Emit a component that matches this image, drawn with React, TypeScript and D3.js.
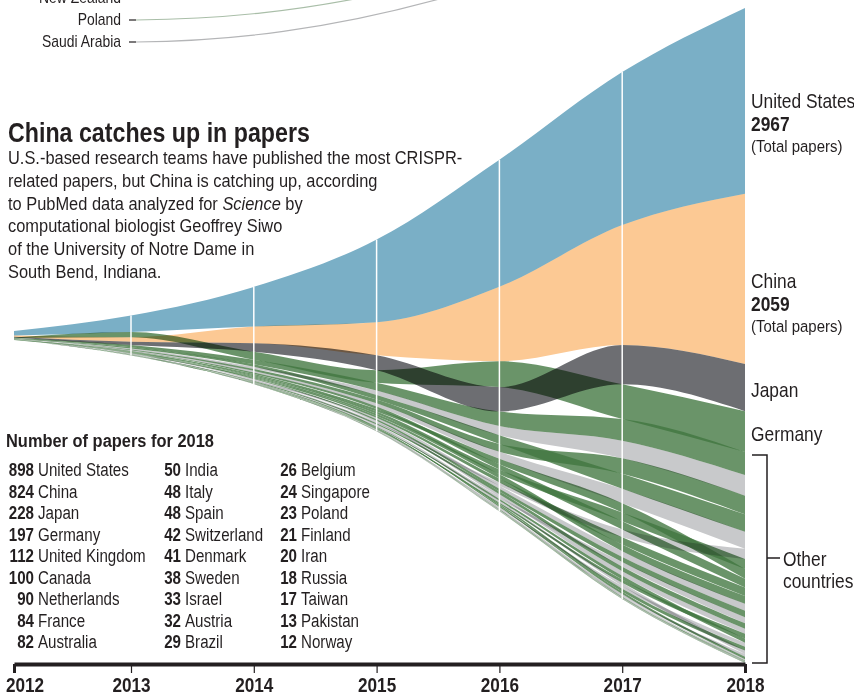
import React, { useRef, useEffect } from 'react';
import * as d3 from 'd3';

// annual CRISPR papers per country, 2012-2018
const years = [2012, 2013, 2014, 2015, 2016, 2017, 2018];

const countries = [
  'United States', 'China', 'Japan', 'Germany', 'United Kingdom', 'Canada', 'Netherlands',
  'France', 'Australia', 'India', 'Italy', 'Spain', 'Switzerland', 'Denmark', 'Sweden',
  'Israel', 'Austria', 'Brazil', 'Belgium', 'Singapore', 'Poland', 'Finland', 'Iran',
  'Russia', 'Taiwan', 'Pakistan', 'Norway', 'New Zealand', 'Saudi Arabia', 'Ireland',
  'Czech Republic', 'Mexico', 'Portugal', 'Turkey', 'Argentina', 'Greece', 'Hungary',
];

// us / cn / jp / eu (green) / row (light grey)
const regions = [
  'us', 'cn', 'jp', 'eu', 'eu', 'row', 'eu',
  'eu', 'row', 'row', 'eu', 'eu', 'eu', 'eu', 'eu',
  'row', 'eu', 'row', 'eu', 'row', 'eu', 'eu', 'row',
  'eu', 'row', 'row', 'eu', 'row', 'row', 'eu',
  'eu', 'row', 'eu', 'row', 'row', 'eu', 'eu',
];

const papers = [
  [22, 80, 192, 400, 615, 740, 898],
  [6, 22, 80, 160, 360, 580, 824],
  [3, 16, 42, 72, 118, 190, 228],
  [3, 25, 38, 60, 125, 168, 197],
  [3, 10, 22, 38, 70, 105, 112],
  [1, 5, 11, 22, 45, 85, 100],
  [1, 4, 9, 18, 38, 75, 90],
  [1, 6, 12, 22, 42, 72, 84],
  [0, 3, 8, 15, 34, 70, 82],
  [0, 1, 3, 6, 16, 38, 50],
  [0, 2, 5, 11, 22, 42, 48],
  [1, 2, 6, 12, 26, 45, 48],
  [1, 3, 7, 13, 26, 40, 42],
  [0, 1, 4, 9, 19, 35, 41],
  [0, 2, 5, 10, 21, 32, 38],
  [0, 1, 3, 7, 15, 28, 33],
  [1, 2, 4, 7, 13, 25, 32],
  [0, 1, 2, 5, 10, 22, 29],
  [0, 1, 3, 6, 13, 22, 26],
  [0, 2, 4, 7, 13, 22, 24],
  [0, 0, 1, 3, 7, 16, 23],
  [0, 1, 2, 4, 9, 18, 21],
  [0, 0, 1, 2, 6, 14, 20],
  [0, 1, 1, 3, 7, 14, 18],
  [0, 1, 2, 5, 9, 15, 17],
  [0, 0, 0, 1, 3, 8, 13],
  [0, 1, 2, 4, 7, 11, 12],
  [0, 0, 0, 1, 2, 3, 3],
  [0, 0, 0, 0, 1, 2, 3],
  [0, 0, 1, 1, 2, 2, 2],
  [0, 0, 0, 1, 1, 2, 2],
  [0, 0, 0, 1, 1, 2, 2],
  [0, 0, 0, 1, 1, 1, 2],
  [0, 0, 0, 0, 1, 1, 1],
  [0, 0, 0, 1, 1, 1, 1],
  [0, 0, 0, 0, 1, 1, 1],
  [0, 0, 0, 0, 1, 1, 1],
];

const labelCountries = ['United States', 'China'];
const totalPapers = [2967, 2059];
const tableSize = 27;

const paragraph = [
  'U.S.-based research teams have published the most CRISPR-',
  'related papers, but China is catching up, according',
  'to PubMed data analyzed for |Science| by',
  'computational biologist Geoffrey Siwo',
  'of the University of Notre Dame in',
  'South Bend, Indiana.',
];

const colors = {
  us: '#7aafc6',
  cn: '#fcc994',
  jp: '#6d6e72',
  eu: '#40763f',
  row: '#c8c9cb',
};

const INK = '#231f20';
const FONT = "'Liberation Sans', Arial, sans-serif";
const SX = 0.86;

const App = () => {
  const svgRef = useRef(null);

  useEffect(() => {
    const svg = d3.select(svgRef.current);
    svg.selectAll('*').remove();

    const midY = 335.5;
    const x = d3.scaleLinear().domain([2012, 2013, 2018]).range([14, 131, 745]);
    const totals = years.map((_, t) => d3.sum(papers, p => p[t]));
    const h = d3.scaleLinear().domain([0, d3.max(totals)]).range([0, 655]);

    // stack each year by rank, centred on midY
    const layout = years.map((_, t) => {
      const order = d3.range(countries.length)
        .sort((a, b) => papers[b][t] - papers[a][t] || a - b);
      let y = midY - h(totals[t]) / 2;
      const pos = [];
      order.forEach(i => {
        pos[i] = [y, y + h(papers[i][t])];
        y += h(papers[i][t]);
      });
      return pos;
    });

    const idx = d3.range(years.length);
    const bandPath = i => d3.area()
      .x(t => x(years[t]))
      .y0(t => layout[t][i][0])
      .y1(t => layout[t][i][1])
      .curve(d3.curveMonotoneX)(idx);

    // greens first with plain transparency, the rest multiplied over them
    const bands = svg.append('g');
    const drawOrder = d3.range(countries.length)
      .sort((a, b) => (regions[a] === 'eu' ? 0 : 1) - (regions[b] === 'eu' ? 0 : 1));
    drawOrder.forEach(i => {
      const p = bands.append('path')
        .attr('d', bandPath(i))
        .attr('fill', colors[regions[i]]);
      if (regions[i] === 'eu') p.attr('fill-opacity', 0.78);
      else p.style('mix-blend-mode', 'multiply');
    });

    // white year guides
    idx.slice(1, -1).forEach(t => {
      svg.append('line')
        .attr('x1', x(years[t])).attr('x2', x(years[t]))
        .attr('y1', midY - h(totals[t]) / 2)
        .attr('y2', midY + h(totals[t]) / 2)
        .attr('stroke', '#fff')
        .attr('stroke-width', 1.5);
    });

    const txt = (g, tx, ty, str, size, bold = false, anchor = 'start') =>
      g.append('text')
        .attr('transform', `translate(${tx},${ty}) scale(${SX},1)`)
        .attr('font-family', FONT)
        .attr('font-size', size)
        .attr('font-weight', bold ? 'bold' : 'normal')
        .attr('text-anchor', anchor)
        .attr('fill', INK)
        .text(str);

    // leftovers from the chart above
    txt(svg, 121, 3, 'New Zealand', 16.2, false, 'end');
    txt(svg, 121, 25, 'Poland', 16.2, false, 'end');
    txt(svg, 121, 47, 'Saudi Arabia', 16.2, false, 'end');
    [20, 42].forEach(yy => {
      svg.append('line').attr('x1', 129).attr('x2', 136).attr('y1', yy).attr('y2', yy)
        .attr('stroke', INK).attr('stroke-width', 1.2);
    });
    svg.append('path').attr('d', 'M136,20 C230,19 300,10 370,-4')
      .attr('fill', 'none').attr('stroke', '#a9bea8').attr('stroke-width', 1.2);
    svg.append('path').attr('d', 'M136,42 C230,41 330,30 450,-4')
      .attr('fill', 'none').attr('stroke', '#b4b5b7').attr('stroke-width', 1.2);

    // title + intro
    txt(svg, 8, 142, 'China catches up in papers', 27, true);
    paragraph.forEach((line, i) => {
      const t = svg.append('text')
        .attr('transform', `translate(8,${164 + i * 22.8}) scale(${SX},1)`)
        .attr('font-family', FONT)
        .attr('font-size', 19.1)
        .attr('fill', INK);
      line.split('|').forEach((part, j) => {
        t.append('tspan').attr('font-style', j % 2 ? 'italic' : 'normal').text(part);
      });
    });

    // right-hand labels
    const labelY = [108, 288];
    labelCountries.forEach((name, i) => {
      txt(svg, 751, labelY[i], name, 20.2);
      txt(svg, 751, labelY[i] + 23, String(totalPapers[i]), 20.2, true);
      txt(svg, 751, labelY[i] + 44, '(Total papers)', 17.4);
    });
    txt(svg, 751, 397, 'Japan', 20.2);
    txt(svg, 751, 441, 'Germany', 20.2);

    // bracket for the rest
    const restTop = 455;
    const restBottom = 663;
    const restMid = 558;
    svg.append('path')
      .attr('d', `M752,${restTop} H767 V${restBottom} H752 M767,${restMid} H780`)
      .attr('fill', 'none').attr('stroke', INK).attr('stroke-width', 1.5);
    txt(svg, 783, restMid + 8, 'Other', 20.2);
    txt(svg, 783, restMid + 30, 'countries', 20.2);

    // table of 2018 counts
    txt(svg, 6, 447, 'Number of papers for 2018', 19.1, true);
    const last = years.length - 1;
    const ranked = d3.range(countries.length)
      .sort((a, b) => papers[b][last] - papers[a][last] || a - b)
      .slice(0, tableSize);
    const colNum = [34, 181, 297];
    ranked.forEach((ci, k) => {
      const col = Math.floor(k / 9);
      const row = k % 9;
      const yy = 476 + row * 21.5;
      txt(svg, colNum[col], yy, String(papers[ci][last]), 17.6, true, 'end');
      txt(svg, colNum[col] + 4, yy, countries[ci], 17.6);
    });

    // axis
    const axis = svg.append('g')
      .attr('transform', 'translate(0,664)')
      .call(d3.axisBottom(x).tickValues(years).tickFormat(d3.format('d'))
        .tickSize(9).tickSizeOuter(0).tickPadding(5));
    axis.select('.domain').attr('stroke', INK).attr('stroke-width', 4);
    axis.selectAll('.tick line').attr('stroke', INK)
      .attr('stroke-width', (d, i) => (i === 0 || i === years.length - 1 ? 3 : 1.2));
    axis.selectAll('.tick text')
      .attr('fill', INK)
      .attr('font-family', FONT)
      .attr('font-size', 20)
      .attr('font-weight', 'bold')
      .attr('transform', `scale(${SX},1)`);
    axis.selectAll('.tick text').filter((d, i) => i === 0)
      .attr('text-anchor', 'start').attr('x', -10);
  }, []);

  return (
    <svg
      ref={svgRef}
      width={854}
      height={698}
      style={{ position: 'absolute', left: 0, top: 0, display: 'block', background: '#fff' }}
    />
  );
};

export default App;
